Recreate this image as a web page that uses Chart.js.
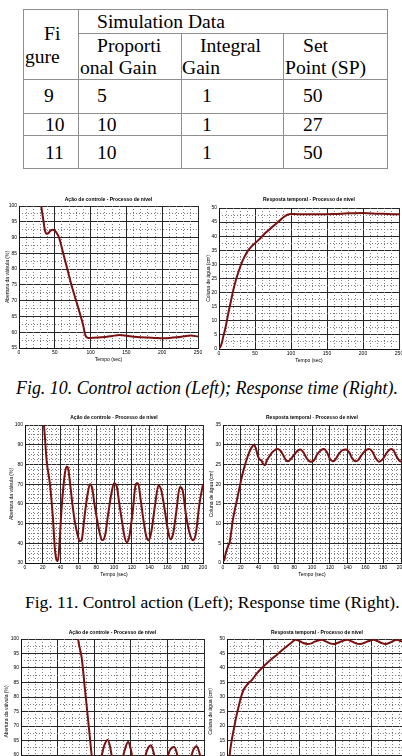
<!DOCTYPE html>
<html><head><meta charset="utf-8">
<script src="https://cdn.jsdelivr.net/npm/chart.js@4.4.1/dist/chart.umd.min.js"></script>
<style>
html,body{margin:0;padding:0;background:#fff;}
body{position:relative;width:402px;height:756px;overflow:hidden;}
.t{position:absolute;font-family:"Liberation Serif","Times New Roman",serif;font-size:19.6px;line-height:22px;color:#000;white-space:nowrap;}
.l{position:absolute;background:#8f8f8f;}
canvas{position:absolute;}
.cap{position:absolute;font-family:"Liberation Serif","Times New Roman",serif;font-size:17.5px;line-height:22px;white-space:nowrap;color:#000;}
</style></head><body>
<div class="cap" id="cap10" style="left:16px;top:377px;font-style:italic;font-size:17.9px;">Fig. 10. Control action (Left); Response time (Right).</div>
<div class="cap" id="cap11" style="left:25px;top:591px;">Fig. 11. Control action (Left); Response time (Right).</div>
<script>
// ---- table data ----
const tableFigures = ['9', '10', '11'];
const tableProportionalGain = ['5', '10', '10'];
const tableIntegralGain = ['1', '1', '1'];
const tableSetPoint = ['50', '27', '50'];

// ---- Fig. 10 ----
const ctrl10Time = [26,31,34,36.5,38.5,41,44,47,50,53,56,59,62,65,68,72,76,80,84,88,90,92,94,97,100,110,120,130,140,150,160,170,180,190,200,210,220,230,240,250];
const ctrl10Opening = [108,100,95.5,92,91.2,91.4,92.2,92.5,92.2,91.3,90,87.5,84.8,82.2,79.6,76,72.8,69.8,66.7,63.6,61.8,59.5,58.5,58.2,58.2,58.3,58.5,58.8,59.1,58.9,58.6,58.4,58.3,58.2,58.1,58.2,58.4,58.7,59,58.6];
const resp10Time = [0,2,4,6,8,10,12,14,17,20,23,26,29,32,35,40,45,50,55,60,65,70,75,80,85,90,95,100,110,120,140,160,180,200,220,240,250];
const resp10Level = [0.3,0.8,2.2,4.5,6.5,8.8,11.5,14,17.5,21,24,26.5,28.8,30.8,32.5,34.8,36.3,37.5,38.7,40,41.3,42.4,43.5,44.6,45.7,46.8,47.6,47.9,47.8,47.8,47.8,47.9,48.1,48.2,48,47.8,47.8];

// ---- Fig. 11 ----
const ctrl11Time = [19,21.3,24.3,28,31.5,33.6,35.5,37,39,41,43,45,47,48.5,50.5,53.5,56,58.7,61.5,63.5,67,70,73,75.5,78,81,84,87,90,93.5,97,100,103,106,109,112,114.5,117,121,124.5,127,130,133,136,139,142,146,150,153,157,160,163.5,166.5,170,174,177,181,185,189,192,196,200];
const ctrl11Opening = [108,100,82,70,52,37,31.5,31,42,57,68,76,79,78,71,59,51,45,41,41.5,54,64,70,68,60,52,45,41.5,44,55,65,70.5,69,60,51,43,40.5,43,56,70,70.5,62,52,44,41.5,46,59,69.5,67,57,48,42,45,56,68.5,67,54,45,41.5,45,60,70];
const resp11Time = [0,1.5,3,4.5,6,7.5,9,11,13,15.5,18,20.5,23,25.5,28,30.5,33,35,37,39,41,43,45.5,47,49.5,52,55,58,61,64.5,68,71,73,76,80,84,87,90,94,98.5,102,106,110,113.5,117,120,123,126,130,134,138,142,145,149,152,156,160,164,168,171,175.5,179,183,186,189,192,195,198,200];
const resp11Level = [0.5,0.8,2.5,3.5,4.5,5.2,7.5,10.8,13.2,15.8,18.5,21.2,23.5,25.5,27.2,28.6,29.6,29.9,29,27.3,26.3,26,25,24.8,26.2,27,28,28.6,28.9,28.5,27.2,26,25.8,26.3,27.5,28.5,28.8,28.2,26.6,25.7,26,27.6,28.6,28.9,28,26.5,25.8,26.2,27.6,28.6,28.8,28,26.6,25.8,26.1,27.5,28.5,28.9,28.2,26.8,25.7,26.2,27.6,28.5,28.9,28.4,27,26,25.6];

// ---- Fig. 12 (unlabelled, SP 50) ----
const ctrl12Time = [74,78,83,87,91,94,96.5,99,102,106,110,114,118.5,122,125,128,131,134,138,142,146.5,150,153,156,160,164,168,172,177.6,181,184,187,191,195,199,203,209.4,213,216,219,223,227,231,235,240,244,247,250];
const ctrl12Opening = [112,100,93.4,83.5,73.8,66.3,60,56,54.5,55.5,59.5,63.5,65.2,62.5,58,55,54,54.8,58,62,64.6,62,58,55,54,54.5,57.5,61.5,63.4,61,57,54.5,54,55,58,61.5,62.8,60.5,57,54.5,54,55,58,61.5,63,60.5,57,55];
const resp12Time = [0,2,3.7,6.5,9.3,12.5,16.2,19.5,23.1,28,34.7,42,50.9,60,69.4,76,83.3,89,94.9,100,106,112,116,122,128,132,137,143,149,155,161,167.5,173,179,185,191,197,203.6,209,215,220,226,231,236,242,248,250];
const resp12Level = [0.5,4.5,10,15,18.7,22.8,26.7,30,32.5,34.3,35.9,38.3,40.6,42.7,44.6,46,47.5,48.6,49.7,49.4,48.6,48.3,48.4,49.1,49.6,49.7,49.2,48.5,48.3,48.8,49.4,49.7,49.2,48.5,48.3,48.7,49.3,49.7,49.3,48.6,48.3,48.7,49.3,49.7,49.2,48.6,48.5];

const titleCtrl = 'Ação de controle - Processo de nível';
const titleResp = 'Resposta temporal - Processo de nível';
const yTitleCtrl = 'Abertura da válvula (%)';
const yTitleResp = 'Coluna de água (cm)';
const xTitle = 'Tempo (sec)';

// ---- table drawing ----
function addLine(x, y, w, h) {
  const d = document.createElement('div');
  d.className = 'l';
  d.style.left = x + 'px'; d.style.top = y + 'px';
  d.style.width = w + 'px'; d.style.height = h + 'px';
  document.body.appendChild(d);
}
function addText(txt, x, cy) {
  const s = document.createElement('div');
  s.className = 't';
  s.textContent = txt;
  s.style.left = x + 'px'; s.style.top = (cy - 11) + 'px';
  document.body.appendChild(s);
}
addLine(23, 9, 365, 1);
addLine(78, 33, 310, 1);
addLine(23, 79, 365, 1);
addLine(23, 113, 365, 1);
addLine(23, 135, 365, 1);
addLine(23, 168, 365, 1);
addLine(23, 9, 1, 160);
addLine(78, 9, 1, 160);
addLine(181, 33, 1, 136);
addLine(283, 33, 1, 136);
addLine(387, 9, 1, 160);
addText('Simulation Data', 97, 22);
addText('Fi', 44, 34);
addText('gure', 25, 57);
addText('Proporti', 97, 46);
addText('onal Gain', 80, 68);
addText('Integral', 200, 46);
addText('Gain', 182, 68);
addText('Set', 303, 46);
addText('Point (SP)', 285, 68);
const rowCy = [96, 124.5, 152.5];
tableFigures.forEach((f, i) => {
  addText(f, f.length > 1 ? 45 : 44, rowCy[i]);
  addText(tableProportionalGain[i], 97, rowCy[i]);
  addText(tableIntegralGain[i], 202, rowCy[i]);
  addText(tableSetPoint[i], 303, rowCy[i]);
});

// ---- charts ----
function isMultiple(v, step) { const r = v / step; return Math.abs(r - Math.round(r)) < 1e-6; }
const axisFont = { family: '"Liberation Sans", Arial, sans-serif', size: 5, lineHeight: 1.2 };
function makeChart(c) {
  const cv = document.createElement('canvas');
  cv.width = c.w; cv.height = c.h;
  cv.style.left = c.left + 'px'; cv.style.top = c.top + 'px';
  document.body.appendChild(cv);
  const pts = c.xs.map((x, i) => ({ x: x, y: c.ys[i] }));
  new Chart(cv, {
    type: 'line',
    data: { datasets: [{ data: pts, borderColor: '#7a1010', borderWidth: 2, pointRadius: 0,
      cubicInterpolationMode: 'monotone', fill: false, clip: 0 }] },
    options: {
      responsive: false, animation: false, devicePixelRatio: 1,
      layout: { padding: { left: 0, right: 8, top: 0, bottom: 0 } },
      plugins: {
        legend: { display: false }, tooltip: { enabled: false },
        title: { display: true, text: c.title, fullSize: false, font: axisFont, color: '#000',
          padding: { top: 0, bottom: c.titlePad } }
      },
      scales: {
        x: { type: 'linear', position: 'bottom', min: c.xMin, max: c.xMax,
          ticks: { stepSize: c.xMajor, font: axisFont, color: '#000', padding: 2, maxRotation: 0, autoSkip: false },
          grid: { color: '#262626', lineWidth: 1, drawTicks: false },
          border: { display: true, color: '#111', width: 1 },
          title: { display: true, text: xTitle, font: axisFont, color: '#000', padding: 0 },
          afterFit: s => { s.height = c.xH; } },
        y: { type: 'linear', position: 'left', min: c.yMin, max: c.yMax,
          ticks: { stepSize: c.yMajor, font: axisFont, color: '#000', padding: 2, autoSkip: false },
          grid: { color: '#262626', lineWidth: 1, drawTicks: false },
          border: { display: true, color: '#111', width: 1 },
          title: { display: true, text: c.yTitle, font: axisFont, color: '#000', padding: { top: c.yTitlePad, bottom: 0 } },
          afterFit: s => { s.width = c.yW; } },
        x2: { type: 'linear', position: 'top', min: c.xMin, max: c.xMax,
          ticks: { display: false, stepSize: c.xMinor, maxTicksLimit: 1000 },
          grid: { drawTicks: false, lineWidth: 1,
            color: ctx => isMultiple(ctx.tick.value, c.xMajor) ? 'rgba(0,0,0,0)' : '#7e7e7e' },
          border: { display: false, dash: [1, 2] },
          afterFit: s => { s.height = 0; } },
        y2: { type: 'linear', position: 'right', min: c.yMin, max: c.yMax,
          ticks: { display: false, stepSize: c.yMinor, maxTicksLimit: 1000 },
          grid: { drawTicks: false, lineWidth: 1,
            color: ctx => isMultiple(ctx.tick.value, c.yMajor) ? 'rgba(0,0,0,0)' : '#7e7e7e' },
          border: { display: false, dash: [1, 2] },
          afterFit: s => { s.width = 0; } }
      }
    }
  });
}

makeChart({ left: 0, top: 197, w: 206, h: 166, title: titleCtrl, titlePad: 3, yTitle: yTitleCtrl, yTitlePad: 4.5,
  yW: 19, xH: 15, xs: ctrl10Time, ys: ctrl10Opening, xMin: 0, xMax: 250, xMajor: 50, xMinor: 10,
  yMin: 55, yMax: 100, yMajor: 5, yMinor: 2.5 });
makeChart({ left: 200, top: 197, w: 207, h: 167, title: titleResp, titlePad: 5, yTitle: yTitleResp, yTitlePad: 5.3,
  yW: 19, xH: 15, xs: resp10Time, ys: resp10Level, xMin: 0, xMax: 250, xMajor: 50, xMinor: 10,
  yMin: 0, yMax: 50, yMajor: 5, yMinor: 2.5 });
makeChart({ left: 0, top: 415, w: 211, h: 163, title: titleCtrl, titlePad: 4, yTitle: yTitleCtrl, yTitlePad: 8.7,
  yW: 25, xH: 15, xs: ctrl11Time, ys: ctrl11Opening, xMin: 0, xMax: 200, xMajor: 20, xMinor: 5,
  yMin: 30, yMax: 100, yMajor: 10, yMinor: 2.5 });
makeChart({ left: 204, top: 415, w: 205, h: 163, title: titleResp, titlePad: 4, yTitle: yTitleResp, yTitlePad: 4.7,
  yW: 19, xH: 15, xs: resp11Time, ys: resp11Level, xMin: 0, xMax: 200, xMajor: 20, xMinor: 5,
  yMin: 0, yMax: 35, yMajor: 5, yMinor: 1.25 });
makeChart({ left: 0, top: 630, w: 212, h: 169, title: titleCtrl, titlePad: 3, yTitle: yTitleCtrl, yTitlePad: 4,
  yW: 21, xH: 15, xs: ctrl12Time, ys: ctrl12Opening, xMin: 0, xMax: 250, xMajor: 50, xMinor: 10,
  yMin: 50, yMax: 100, yMajor: 5, yMinor: 2.5 });
makeChart({ left: 207, top: 630, w: 208, h: 169, title: titleResp, titlePad: 3, yTitle: yTitleResp, yTitlePad: 0.5,
  yW: 20, xH: 15, xs: resp12Time, ys: resp12Level, xMin: 0, xMax: 250, xMajor: 50, xMinor: 10,
  yMin: 0, yMax: 50, yMajor: 5, yMinor: 2.5 });
</script>
</body></html>
